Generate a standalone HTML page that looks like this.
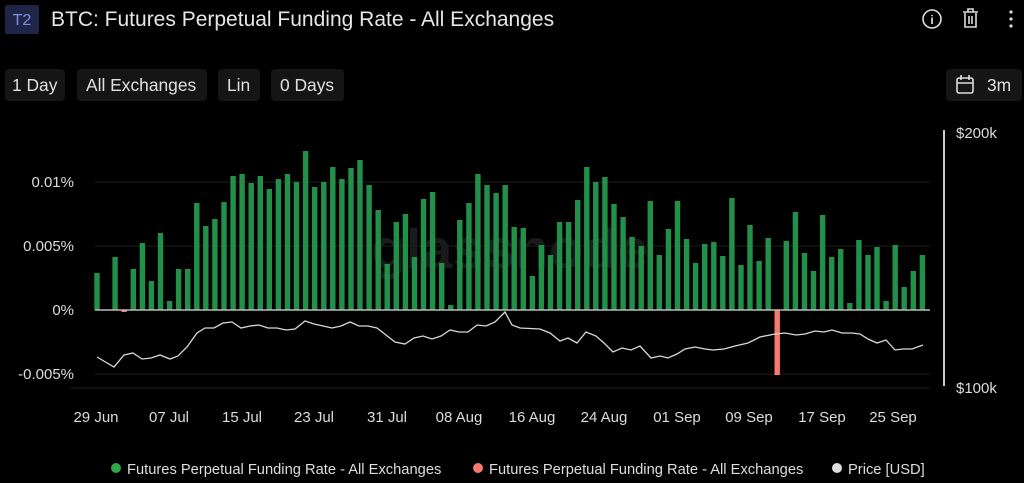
<!DOCTYPE html>
<html><head><meta charset="utf-8"><style>
html,body{margin:0;padding:0;background:#000;width:1024px;height:483px;overflow:hidden;font-family:"Liberation Sans",sans-serif;}
svg{display:block}
</style></head><body>
<svg id="s" width="1024" height="483" xmlns="http://www.w3.org/2000/svg" font-family="Liberation Sans, sans-serif">
<rect width="1024" height="483" fill="#000"/>
<rect x="5" y="5" width="34" height="29" rx="2" fill="#1f2547"/>
<text x="22" y="25" fill="#7f8fe6" font-size="16" text-anchor="middle">T2</text>
<text x="51" y="26" fill="#e6e6e6" font-size="21">BTC: Futures Perpetual Funding Rate - All Exchanges</text>
<circle cx="932" cy="19" r="9" fill="none" stroke="#ddd" stroke-width="1.6"/>
<text x="932" y="24" fill="#ddd" font-size="12" text-anchor="middle" font-weight="bold">i</text>
<g stroke="#ddd" stroke-width="1.6" fill="none"><path d="M963 12h15M968 12v-3h5v3M965 13v14h11v-14M969 16v8M972 16v8"/></g>
<g fill="#ddd"><circle cx="1011" cy="12" r="1.6"/><circle cx="1011" cy="19" r="1.6"/><circle cx="1011" cy="26" r="1.6"/></g>
<g fill="#151515"><rect x="5" y="69" width="60" height="32" rx="4"/><rect x="77" y="69" width="130" height="32" rx="4"/><rect x="218" y="69" width="42" height="32" rx="4"/><rect x="271" y="69" width="73" height="32" rx="4"/><rect x="946" y="69" width="76" height="32" rx="4"/></g>
<g fill="#e0e0e0" font-size="17.4"><text x="12" y="91">1 Day</text><text x="86" y="91">All Exchanges</text><text x="227" y="91">Lin</text><text x="280" y="91">0 Days</text><text x="987" y="91">3m</text></g>
<g stroke="#ddd" stroke-width="1.6" fill="none"><rect x="957" y="78" width="16" height="15" rx="2"/><path d="M957 83h16M961 75v5M969 75v5"/></g>
<g stroke="#1e1e1e" stroke-width="1"><line x1="95" y1="182" x2="930" y2="182"/><line x1="95" y1="246" x2="930" y2="246"/><line x1="95" y1="374" x2="930" y2="374"/><line x1="70" y1="388" x2="930" y2="388"/></g>
<g fill="#dcdcdc" font-size="15" text-anchor="end"><text x="74" y="187">0.01%</text><text x="74" y="251">0.005%</text><text x="74" y="315">0%</text><text x="74" y="379">-0.005%</text></g>
<text x="510" y="268" fill="#1a1a1a" font-size="56" text-anchor="middle" font-weight="bold">glassnode</text>
<g id="bars"></g>
<line x1="95" y1="310" x2="930" y2="310" stroke="#bbb" stroke-width="1.5"/>
<polyline id="pl" fill="none" stroke="#d8d8d8" stroke-width="1.3"/>
<line x1="944" y1="130" x2="944" y2="386" stroke="#ccc" stroke-width="2"/>
<g fill="#dcdcdc" font-size="15"><text x="956" y="138">$200k</text><text x="956" y="393">$100k</text></g>
<g fill="#dcdcdc" font-size="15" text-anchor="middle"><text x="96" y="422">29 Jun</text><text x="169" y="422">07 Jul</text><text x="242" y="422">15 Jul</text><text x="314" y="422">23 Jul</text><text x="387" y="422">31 Jul</text><text x="459" y="422">08 Aug</text><text x="532" y="422">16 Aug</text><text x="604" y="422">24 Aug</text><text x="677" y="422">01 Sep</text><text x="749" y="422">09 Sep</text><text x="822" y="422">17 Sep</text><text x="893" y="422">25 Sep</text></g>
<circle cx="116" cy="468" r="5" fill="#2ea84a"/><text x="127" y="474" fill="#ddd" font-size="14.7">Futures Perpetual Funding Rate - All Exchanges</text>
<circle cx="478" cy="468" r="5" fill="#f77a6c"/><text x="489" y="474" fill="#ddd" font-size="14.7">Futures Perpetual Funding Rate - All Exchanges</text>
<circle cx="837" cy="468" r="5" fill="#ddd"/><text x="848" y="474" fill="#ddd" font-size="14.7">Price [USD]</text>
</svg>
<script>
var t=[273,310,257,-312,269,243,281,233,301,269,269,203,226,219,202,176,174,183,176,189,179,174,182,151,187,182,167,179,168,160,185,210,264,222,214,257,199,192,263,305,220,203,174,185,193,
185,227,228,276,245,255,222,222,200,167,182,177,204,217,237,246,201,255,229,201,239,263,244,242,256,198,265,225,261,238,-375,241,212,253,271,215,257,249,303,240,255,247,301,245,287,271,255];
var g=document.getElementById('bars'),h='';
for(var i=0;i<t.length;i++){var x=97+9.07*i-2.7,v=t[i];
if(v<0){v=-v;h+='<rect x="'+x.toFixed(1)+'" y="310" width="5.4" height="'+(v-310)+'" fill="#f77a6c"/>';}
else if(v<310){h+='<rect x="'+x.toFixed(1)+'" y="'+v+'" width="5.4" height="'+(310-v)+'" fill="#23904a"/>';}}
g.innerHTML=h;
document.getElementById('pl').setAttribute('points',"97,357 114,367 124,355 133,353 142,359 151,358 160,355 170,359 178,356 187,347 197,333 205,328 214,328 223,323 232,322 241,328 250,326 259,325 268,328 277,328 286,330 295,329 305,321 314,324 323,326 332,328 341,326 350,322 359,326 368,326 377,328 386,335 395,342 405,344 414,338 423,336 432,339 441,336 450,330 459,332 468,332 477,325 486,326 495,322 505,312 512,325 520,328 540,329 550,333 560,341 568,338 577,343 586,332 596,336 604,343 613,352 622,348 631,350 640,346 651,358 660,356 668,358 677,354 685,349 695,347 705,349 713,350 724,349 735,346 748,343 760,337 775,334 785,333 796,335 805,334 815,331 824,332 832,330 842,333 852,333 860,334 868,339 877,343 886,340 895,350 903,349 912,349 923,345");
</script>
</body></html>
